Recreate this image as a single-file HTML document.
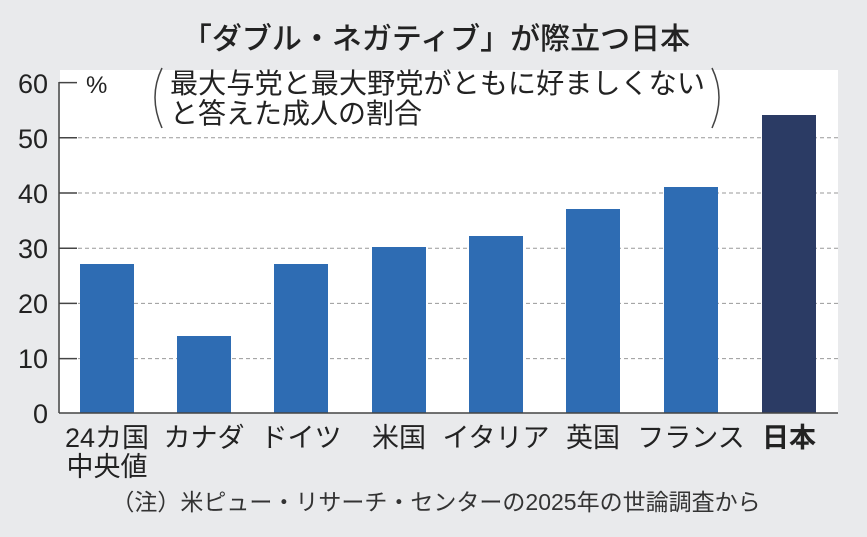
<!DOCTYPE html>
<html><head><meta charset="utf-8"><style>
body{margin:0;width:867px;height:537px;background:#e9eaec;overflow:hidden;font-family:"Liberation Sans","Noto Sans CJK JP",sans-serif;color:#222}
</style></head><body>
<svg width="867" height="537" xmlns="http://www.w3.org/2000/svg" style="position:absolute;left:0;top:0;font-family:'Liberation Sans','Noto Sans CJK JP',sans-serif">
<rect x="60" y="70" width="778" height="343" fill="#ffffff"/>
<text x="436" y="49" font-size="30" text-anchor="middle" fill="#222" font-weight="500">「ダブル・ネガティブ」が際立つ日本</text>
<g stroke="#999" stroke-dasharray="4,3" stroke-width="1">
<line x1="78" y1="137.8" x2="838" y2="137.8"/><line x1="78" y1="193" x2="838" y2="193"/>
<line x1="78" y1="248.2" x2="838" y2="248.2"/><line x1="78" y1="303.4" x2="838" y2="303.4"/>
<line x1="78" y1="358.6" x2="838" y2="358.6"/>
</g>
<g stroke="#444" stroke-width="1.5">
<line x1="59" y1="82" x2="59" y2="413"/>
<line x1="59" y1="82.6" x2="77" y2="82.6"/><line x1="59" y1="137.8" x2="77" y2="137.8"/>
<line x1="59" y1="193" x2="77" y2="193"/><line x1="59" y1="248.2" x2="77" y2="248.2"/>
<line x1="59" y1="303.4" x2="77" y2="303.4"/><line x1="59" y1="358.6" x2="77" y2="358.6"/>
</g>
<g font-size="27" text-anchor="end" fill="#222">
<text x="48" y="93">60</text><text x="48" y="148">50</text><text x="48" y="203">40</text>
<text x="48" y="258">30</text><text x="48" y="313">20</text><text x="48" y="368">10</text><text x="48" y="423">0</text>
</g>
<text x="86" y="93" font-size="24" fill="#222">%</text>
<path d="M162 68 Q148 97 162 128" stroke="#444" fill="none" stroke-width="1.5"/>
<path d="M712 68 Q726 97 712 128" stroke="#444" fill="none" stroke-width="1.5"/>
<text x="170" y="93" font-size="28" fill="#222" textLength="535" lengthAdjust="spacingAndGlyphs">最大与党と最大野党がともに好ましくない</text>
<text x="170" y="123" font-size="28" fill="#222">と答えた成人の割合</text>
<g fill="#2e6cb3">
<rect x="80" y="264" width="54" height="149"/>
<rect x="177" y="336" width="54" height="77"/>
<rect x="274" y="264" width="54" height="149"/>
<rect x="372" y="247" width="54" height="166"/>
<rect x="469" y="236" width="54" height="177"/>
<rect x="566" y="209" width="54" height="204"/>
<rect x="664" y="187" width="54" height="226"/>
</g>
<rect x="762" y="115" width="54" height="298" fill="#2b3b64"/>
<line x1="59" y1="413" x2="838" y2="413" stroke="#444" stroke-width="1.5"/>
<g font-size="27" fill="#222" text-anchor="middle">
<text x="107" y="447">24カ国</text><text x="107" y="476">中央値</text>
<text x="204" y="447">カナダ</text><text x="301" y="447">ドイツ</text>
<text x="399" y="447">米国</text><text x="496" y="447">イタリア</text>
<text x="593" y="447">英国</text><text x="691" y="447">フランス</text>
<text x="789" y="447" font-weight="bold">日本</text>
</g>
<text x="436" y="510" font-size="23" fill="#333" text-anchor="middle">（注）米ピュー・リサーチ・センターの2025年の世論調査から</text>
</svg>
</body></html>
